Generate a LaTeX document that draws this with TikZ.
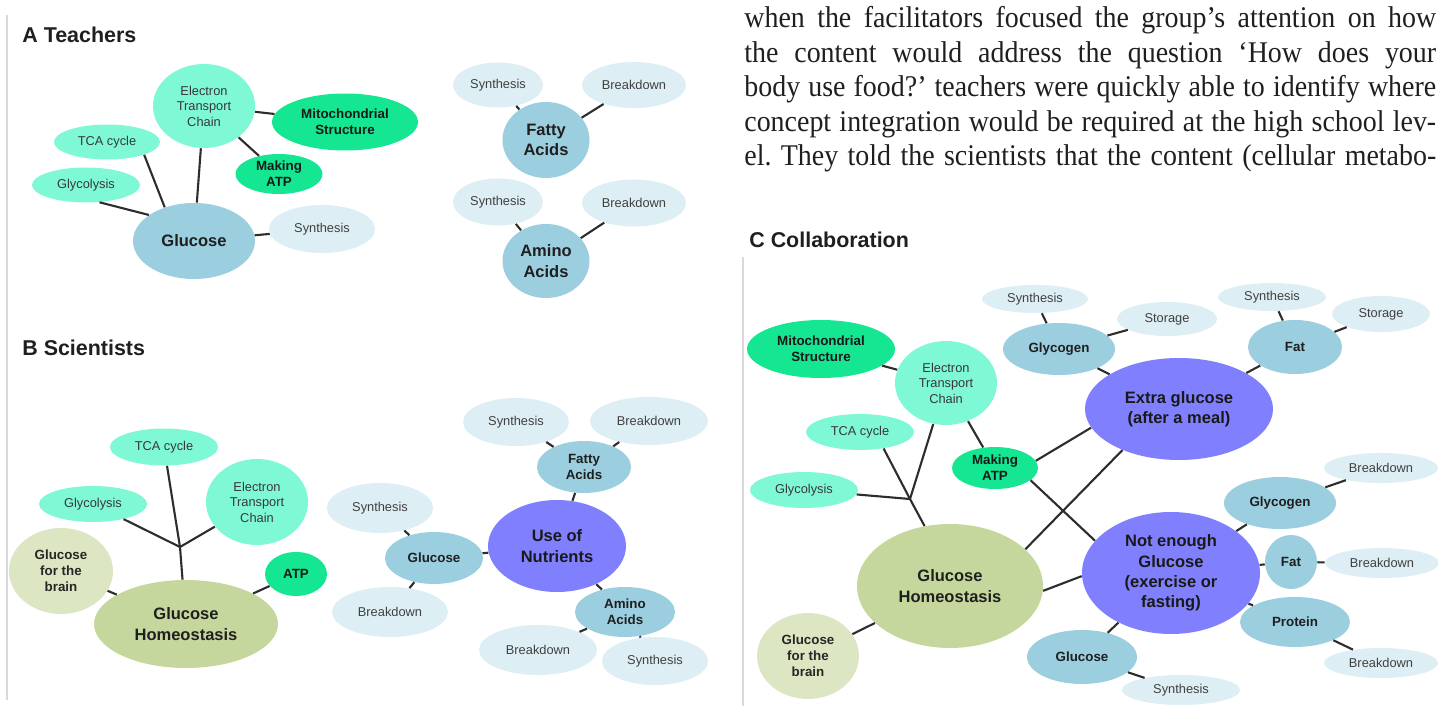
\documentclass[tikz,border=0pt]{standalone}
\usepackage{fontspec}
\setmainfont{Liberation Sans}
\newfontfamily\parafont[FakeStretch=0.93]{Liberation Serif}
\usetikzlibrary{shapes.geometric}
\definecolor{aquaC}{RGB}{127,248,214}
\definecolor{mintC}{RGB}{20,230,145}
\definecolor{steelC}{RGB}{155,206,223}
\definecolor{paleC}{RGB}{221,238,244}
\definecolor{oliveC}{RGB}{197,215,156}
\definecolor{paleoC}{RGB}{221,230,194}
\definecolor{purpC}{RGB}{128,128,255}
\definecolor{linkC}{RGB}{45,45,45}
\definecolor{ruleC}{RGB}{217,217,217}
\newcommand{\lblsm}{\fontsize{7.3}{8.8}\selectfont}
\newcommand{\lblmd}{\fontsize{7.6}{9.1}\selectfont\bfseries}
\newcommand{\lblbg}{\fontsize{9.4}{11.6}\selectfont\bfseries}
\newcommand{\paneltitle}{\fontsize{12.2}{14}\selectfont\bfseries}
\tikzset{
  blob/.style={ellipse, inner sep=0pt, align=center},
  sz/.style 2 args={minimum width=#1*0.02cm, minimum height=#2*0.02cm},
  aqua/.style={blob, fill=aquaC, font=\lblsm, text=black!78},
  mint/.style={blob, fill=mintC, font=\lblmd, text=black!90},
  steel/.style={blob, fill=steelC, font=\lblmd, text=black!88},
  pale/.style={blob, fill=paleC, font=\lblsm, text=black!75},
  olive/.style={blob, fill=oliveC, font=\lblbg, text=black!88},
  paleo/.style={blob, fill=paleoC, font=\lblmd, text=black!85},
  purp/.style={blob, fill=purpC, font=\lblbg, text=black!90},
  link/.style={draw=linkC, line width=1.2pt},
  title/.style={anchor=base west, inner sep=0pt, font=\paneltitle, text=black!88},
  paraline/.style={anchor=base west, inner sep=0pt, font=\parafont\fontsize{17.1}{20}\selectfont\frenchspacing, text=black!88}
}
\begin{document}
\begin{tikzpicture}[x=0.02cm, y=-0.02cm]
	\useasboundingbox (0,0) rectangle (1438,706);
	\draw[ruleC, line width=0.8pt] (7,15)--(7,700);
	\draw[ruleC, line width=0.8pt] (743,257)--(743,706);

	\node[title] (titA) at (22,43) {A Teachers};
	\node[aqua, sz={102}{84}] (etcA) at (204,106) {Electron\\Transport\\Chain};
	\node[mint, sz={146}{57}] (mitoA) at (345,122) {Mitochondrial\\Structure};
	\node[aqua, sz={106}{35}] (tcaA) at (107,142) {TCA cycle};
	\node[aqua, sz={108}{35}] (glyA) at (86,185) {Glycolysis};
	\node[mint, sz={87}{40}] (atpA) at (279,174) {Making\\ATP};
	\node[steel, sz={122}{76}, font=\lblbg] (glucA) at (194,241) {Glucose};
	\node[pale, sz={106}{48}] (synA) at (322,229) {Synthesis};
	\node[pale, sz={90}{45}] (synFA) at (498,85) {Synthesis};
	\node[pale, sz={104}{46}] (brkFA) at (634,85) {Breakdown};
	\node[steel, sz={87}{76}, font=\lblbg] (fatA) at (546,140) {Fatty\\Acids};
	\node[pale, sz={90}{47}] (synAA) at (498,202) {Synthesis};
	\node[pale, sz={104}{47}] (brkAA) at (634,203) {Breakdown};
	\node[steel, sz={87}{74}, font=\lblbg] (amiA) at (546,261) {Amino\\Acids};
	\draw[link] (glyA.-52)--(glucA.150);
	\draw[link] (tcaA.-19)--(glucA.131);
	\draw[link] (etcA)--(glucA);
	\draw[link] (etcA)--(mitoA);
	\draw[link] (etcA)--(atpA);
	\draw[link] (glucA)--(synA);
	\draw[link] (synFA)--(fatA);
	\draw[link] (brkFA)--(fatA);
	\draw[link] (synAA)--(amiA);
	\draw[link] (brkAA)--(amiA);

	\node[title] (titB) at (22,355) {B Scientists};
	\node[aqua, sz={108}{37}] (tcaB) at (164,447) {TCA cycle};
	\node[aqua, sz={108}{36}] (glyB) at (93,504) {Glycolysis};
	\node[aqua, sz={102}{86}] (etcB) at (257,502) {Electron\\Transport\\Chain};
	\node[paleo, sz={104}{86}] (brainB) at (61,571) {Glucose\\for the\\brain};
	\node[mint, sz={62}{44}] (atpB) at (296,574) {ATP};
	\node[olive, sz={184}{88}] (homB) at (186,624) {Glucose\\Homeostasis};
	\coordinate (jB) at (180,547);
	\node[pale, sz={106}{50}] (synGB) at (380,508) {Synthesis};
	\node[steel, sz={98}{52}] (gluB) at (434,558) {Glucose};
	\node[pale, sz={116}{50}] (brkGB) at (390,612) {Breakdown};
	\node[purp, sz={138}{92}] (nutB) at (557,546) {Use of\\Nutrients};
	\node[pale, sz={106}{48}] (synFB) at (516,422) {Synthesis};
	\node[pale, sz={118}{48}] (brkFB) at (649,421) {Breakdown};
	\node[steel, sz={94}{52}] (fatB) at (584,467) {Fatty\\Acids};
	\node[steel, sz={100}{50}] (amiB) at (625,612) {Amino\\Acids};
	\node[pale, sz={118}{50}] (brkAB) at (538,650) {Breakdown};
	\node[pale, sz={106}{48}] (synAB) at (655,661) {Synthesis};
	\draw[link] (tcaB)--(jB);
	\draw[link] (glyB)--(jB);
	\draw[link] (etcB)--(jB);
	\draw[link] (jB)--(homB);
	\draw[link] (brainB)--(homB);
	\draw[link] (atpB)--(homB);
	\draw[link] (nutB)--(gluB);
	\draw[link] (gluB)--(synGB);
	\draw[link] (gluB)--(brkGB);
	\draw[link] (nutB)--(fatB);
	\draw[link] (fatB)--(synFB);
	\draw[link] (fatB)--(brkFB);
	\draw[link] (nutB)--(amiB);
	\draw[link] (amiB)--(brkAB);
	\draw[link] (amiB)--(synAB);

	\node[paraline] (ln1) at (744,28) {\makebox[13.84cm][s]{when the facilitators focused the group’s attention on how}};
	\node[paraline] (ln2) at (744,63) {\makebox[13.84cm][s]{the content would address the question ‘How does your}};
	\node[paraline] (ln3) at (744,97) {\makebox[13.84cm][s]{body use food?’ teachers were quickly able to identify where}};
	\node[paraline] (ln4) at (744,132) {\makebox[13.84cm][s]{concept integration would be required at the high school lev-}};
	\node[paraline] (ln5) at (744,166) {\makebox[13.84cm][s]{el. They told the scientists that the content (cellular metabo-}};

	\node[title] (titC) at (749,248) {C Collaboration};
	\node[pale, sz={106}{28}] (synGC) at (1035,299) {Synthesis};
	\node[mint, sz={148}{58}] (mitoC) at (821,349) {Mitochondrial\\Structure};
	\node[steel, sz={112}{52}] (gcC) at (1059,349) {Glycogen};
	\node[aqua, sz={102}{84}] (etcC) at (946,383) {Electron\\Transport\\Chain};
	\node[aqua, sz={108}{36}] (tcaC) at (860,432) {TCA cycle};
	\node[mint, sz={86}{42}] (atpC) at (995,468) {Making\\ATP};
	\node[aqua, sz={108}{36}] (glyC) at (804,490) {Glycolysis};
	\node[olive, sz={186}{124}] (homC) at (950,586) {Glucose\\Homeostasis};
	\node[paleo, sz={102}{86}] (brainC) at (808,656) {Glucose\\for the\\brain};
	\node[steel, sz={110}{54}] (gluC) at (1082,657) {Glucose};
	\node[pale, sz={100}{34}] (stoGC) at (1167,319) {Storage};
	\node[pale, sz={108}{28}] (synFC) at (1272,297) {Synthesis};
	\node[pale, sz={98}{36}] (stoFC) at (1381,314) {Storage};
	\node[steel, sz={94}{54}] (fatC) at (1295,347) {Fat};
	\node[purp, sz={188}{102}] (extraC) at (1179,409) {Extra glucose\\(after a meal)};
	\node[pale, sz={114}{30}] (brkGC) at (1381,468) {Breakdown};
	\node[steel, sz={112}{52}] (gc2C) at (1280,503) {Glycogen};
	\node[purp, sz={178}{122}] (notC) at (1171,573) {Not enough\\Glucose\\(exercise or\\fasting)};
	\node[steel, sz={52}{54}] (fat2C) at (1291,562) {Fat};
	\node[pale, sz={114}{30}] (brkFC) at (1382,563) {Breakdown};
	\node[steel, sz={110}{50}] (proC) at (1295,622) {Protein};
	\node[pale, sz={114}{30}] (brkPC) at (1381,663) {Breakdown};
	\node[pale, sz={118}{30}] (synGlC) at (1181,690) {Synthesis};
	\coordinate (jC) at (910,499);
	\draw[link] (tcaC.-35)--(jC)--(homC.113);
	\draw[link] (etcC)--(jC);
	\draw[link] (glyC)--(jC);
	\draw[link] (mitoC)--(etcC);
	\draw[link] (etcC)--(atpC);
	\draw[link] (atpC.10)--(extraC.192);
	\draw[link] (atpC.-19)--(notC.157);
	\draw[link] (homC.26)--(extraC.216);
	\draw[link] (homC.-3)--(notC.182);
	\draw[link] (homC)--(brainC);
	\draw[link] (synGC)--(gcC);
	\draw[link] (gcC)--(stoGC);
	\draw[link] (gcC)--(extraC);
	\draw[link] (synFC)--(fatC);
	\draw[link] (fatC)--(stoFC);
	\draw[link] (fatC)--(extraC);
	\draw[link] (notC)--(gc2C);
	\draw[link] (gc2C)--(brkGC);
	\draw[link] (notC)--(fat2C);
	\draw[link] (fat2C)--(brkFC);
	\draw[link] (notC)--(proC);
	\draw[link] (proC)--(brkPC);
	\draw[link] (notC)--(gluC);
	\draw[link] (gluC)--(synGlC);
\end{tikzpicture}
\end{document}
